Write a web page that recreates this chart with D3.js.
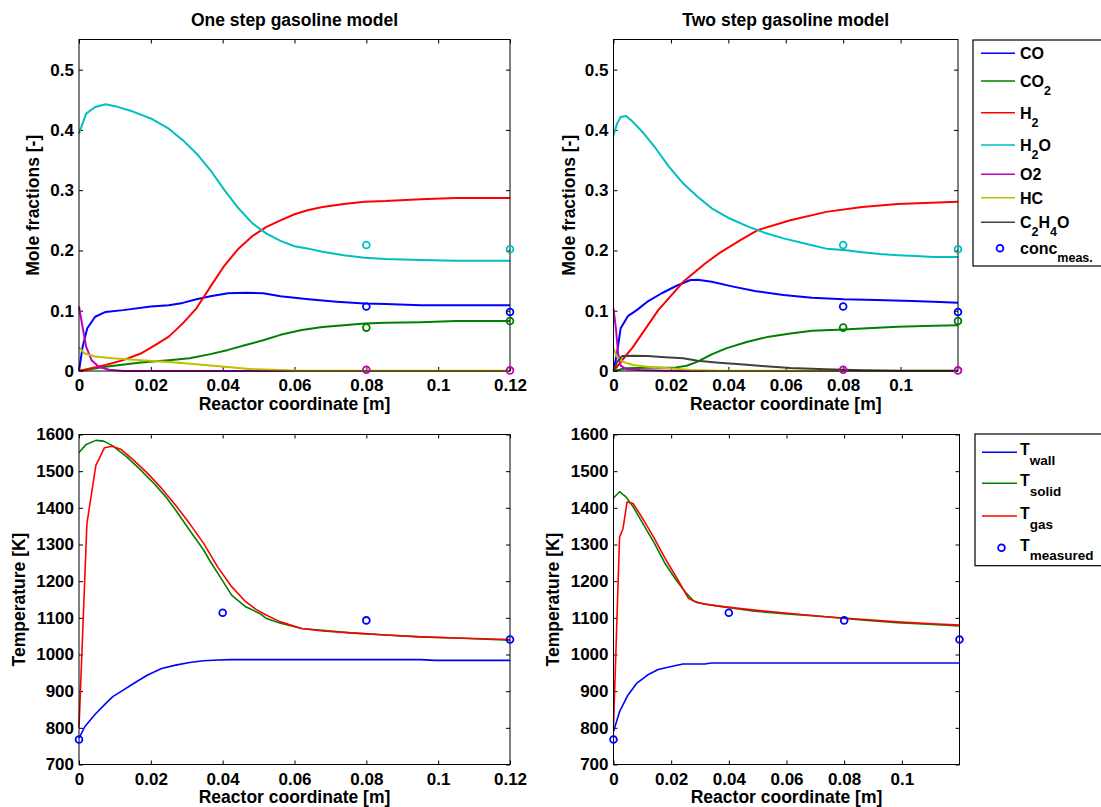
<!DOCTYPE html>
<html>
<head>
<meta charset="utf-8">
<script src="https://cdn.jsdelivr.net/npm/d3@7"></script>
<style>
  html, body { margin: 0; padding: 0; background: #fff; }
  svg { display: block; }
</style>
</head>
<body>
<svg id="chart" width="1101" height="807"></svg>
<script>
// ---- Species mole fractions, one step model: [position (m), mole fraction] ----
const oneCO  = [[0,0],[0.001,0.040],[0.0023,0.071],[0.0045,0.090],[0.0074,0.098],[0.0123,0.101],[0.020,0.107],[0.025,0.109],[0.0289,0.113],[0.0327,0.119],[0.0366,0.124],[0.0415,0.129],[0.0464,0.130],[0.0513,0.129],[0.0561,0.124],[0.0639,0.119],[0.0717,0.115],[0.0795,0.112],[0.0854,0.111],[0.0951,0.109],[0.1049,0.109],[0.12,0.109]];
const oneCO2 = [[0,0],[0.0074,0.007],[0.0172,0.014],[0.025,0.018],[0.0308,0.021],[0.0366,0.028],[0.0415,0.035],[0.0464,0.043],[0.0513,0.051],[0.0561,0.060],[0.062,0.068],[0.0678,0.073],[0.0737,0.076],[0.0795,0.079],[0.0854,0.080],[0.0951,0.081],[0.1049,0.083],[0.12,0.083]];
const oneH2  = [[0,0],[0.0074,0.010],[0.0123,0.018],[0.0172,0.029],[0.022,0.046],[0.025,0.057],[0.0289,0.079],[0.0327,0.104],[0.0366,0.140],[0.0405,0.175],[0.0444,0.203],[0.0483,0.224],[0.0522,0.239],[0.0561,0.250],[0.060,0.260],[0.0639,0.267],[0.0678,0.272],[0.0737,0.277],[0.0795,0.281],[0.0854,0.282],[0.0951,0.285],[0.1049,0.287],[0.12,0.287]];
const oneH2O = [[0,0.394],[0.002,0.427],[0.0045,0.438],[0.0074,0.4425],[0.0103,0.439],[0.0152,0.430],[0.020,0.419],[0.025,0.402],[0.0289,0.383],[0.0327,0.361],[0.0366,0.333],[0.0405,0.300],[0.0444,0.270],[0.0483,0.245],[0.0522,0.228],[0.0561,0.216],[0.060,0.207],[0.0639,0.203],[0.0678,0.198],[0.0737,0.192],[0.0795,0.188],[0.0854,0.186],[0.0951,0.184],[0.1049,0.183],[0.12,0.183]];
const oneO2  = [[0,0.107],[0.001,0.073],[0.002,0.040],[0.0035,0.018],[0.0055,0.007],[0.0084,0.002],[0.0123,0],[0.12,0]];
const oneHC  = [[0,0.039],[0.0016,0.029],[0.0045,0.024],[0.0094,0.021],[0.0172,0.018],[0.025,0.015],[0.0327,0.011],[0.0405,0.007],[0.0483,0.003],[0.0542,0.002],[0.061,0.0005],[0.12,0.0005]];

// ---- Species mole fractions, two step model ----
const twoCO  = [[0,0],[0.0012,0.029],[0.0025,0.071],[0.005,0.091],[0.0081,0.101],[0.0118,0.115],[0.0168,0.129],[0.0218,0.141],[0.0268,0.151],[0.0293,0.1514],[0.0342,0.148],[0.0417,0.140],[0.0492,0.1326],[0.0592,0.126],[0.0691,0.1215],[0.0803,0.119],[0.0915,0.1177],[0.104,0.116],[0.1115,0.115],[0.12,0.1133]];
const twoCO2 = [[0,0],[0.0044,0.0044],[0.0118,0.0055],[0.0218,0.006],[0.0255,0.0088],[0.0293,0.0155],[0.0342,0.0276],[0.0392,0.0376],[0.0467,0.0486],[0.0542,0.057],[0.0616,0.0624],[0.0691,0.0669],[0.0803,0.069],[0.0866,0.0707],[0.099,0.0735],[0.1115,0.0751],[0.12,0.076]];
const twoH2  = [[0,0],[0.0068,0.040],[0.0156,0.101],[0.0243,0.148],[0.0318,0.178],[0.0367,0.195],[0.0442,0.217],[0.0504,0.234],[0.0616,0.250],[0.0741,0.264],[0.0866,0.272],[0.099,0.277],[0.12,0.281]];
const twoH2O = [[0,0.391],[0.0012,0.410],[0.0025,0.4215],[0.0044,0.423],[0.0068,0.413],[0.0106,0.394],[0.0143,0.372],[0.0193,0.339],[0.0243,0.311],[0.0293,0.289],[0.0342,0.270],[0.0405,0.253],[0.0467,0.240],[0.0529,0.229],[0.0592,0.220],[0.0666,0.2116],[0.0741,0.203],[0.0803,0.2006],[0.0866,0.197],[0.0928,0.194],[0.099,0.192],[0.1052,0.1906],[0.1115,0.189],[0.12,0.189]];
const twoO2  = [[0,0.104],[0.0009,0.068],[0.0016,0.029],[0.0025,0.009],[0.0044,0.003],[0.0093,0.0017],[0.018,0.0005],[0.025,0],[0.12,0]];
const twoHC  = [[0,0.0376],[0.0012,0.024],[0.0031,0.0155],[0.0068,0.010],[0.0118,0.007],[0.0193,0.0044],[0.0268,0.0017],[0.0367,0.0006],[0.12,0.0003]];
const twoC2H4O = [[0,0],[0.0012,0.015],[0.0031,0.025],[0.0068,0.0254],[0.0118,0.025],[0.018,0.0227],[0.0243,0.021],[0.0293,0.017],[0.0367,0.0138],[0.0442,0.011],[0.0517,0.0083],[0.0616,0.005],[0.0741,0.0028],[0.0866,0.0011],[0.099,0.0006],[0.12,0.0006]];

// ---- Measured concentrations at the sampling ports ----
const concMeasX   = [0.08, 0.12];
const concMeasCO  = [0.107, 0.098];
const concMeasCO2 = [0.072, 0.083];
const concMeasH2O = [0.209, 0.202];
const concMeasO2  = [0.002, 0.001];

// ---- Temperatures (K), one step model ----
const oneTwall  = [[0,771],[0.0016,803],[0.0045,837],[0.0074,866],[0.0094,885],[0.0123,903],[0.0152,921],[0.0191,944],[0.023,962],[0.0269,971],[0.0308,978],[0.0347,983],[0.0386,985],[0.0425,986],[0.0951,986],[0.099,984],[0.12,984]];
const oneTsolid = [[0,1551],[0.002,1573],[0.0047,1584],[0.0069,1582],[0.0094,1569],[0.0133,1539],[0.0172,1503],[0.021,1465],[0.024,1432],[0.0269,1394],[0.0308,1339],[0.0347,1285],[0.0366,1253],[0.0396,1207],[0.0425,1162],[0.0464,1130],[0.0503,1112],[0.0522,1098],[0.0561,1085],[0.062,1071],[0.0678,1066],[0.0756,1059],[0.0854,1053],[0.0951,1048],[0.1049,1045],[0.12,1039]];
const oneTgas   = [[0,800],[0.0022,1357],[0.0047,1516],[0.0071,1564],[0.0092,1568],[0.0118,1559],[0.0152,1530],[0.0191,1494],[0.023,1453],[0.0269,1407],[0.0308,1357],[0.0347,1303],[0.0386,1239],[0.0425,1185],[0.0464,1144],[0.0493,1123],[0.0522,1107],[0.0561,1089],[0.062,1071],[0.0678,1064],[0.0756,1059],[0.0854,1053],[0.0951,1048],[0.1049,1045],[0.12,1041]];

// ---- Temperatures (K), two step model ----
const twoTwall  = [[0,790],[0.0021,844],[0.005,889],[0.008,921],[0.0118,944],[0.0155,959],[0.0204,968],[0.0241,974],[0.0316,974],[0.034,977],[0.12,977]];
const twoTsolid = [[0,1427],[0.0021,1444],[0.0043,1430],[0.0068,1403],[0.0105,1353],[0.0142,1303],[0.0179,1248],[0.0217,1203],[0.0254,1166],[0.0278,1146],[0.0316,1137],[0.0365,1132],[0.0489,1118],[0.0613,1110],[0.0736,1103],[0.086,1094],[0.0984,1087],[0.1108,1082],[0.12,1078]];
const twoTgas   = [[0,803],[0.0021,1320],[0.0033,1343],[0.0047,1416],[0.0068,1412],[0.0105,1366],[0.0142,1316],[0.0179,1262],[0.0217,1212],[0.026,1153],[0.0291,1141],[0.0365,1132],[0.0489,1121],[0.0613,1112],[0.0736,1103],[0.086,1096],[0.0984,1089],[0.1108,1084],[0.12,1080]];

// ---- Measured temperatures ----
const tempMeasX = [0, 0.04, 0.08, 0.12];
const tempMeasT = [768, 1114, 1093, 1041];

// ---- Axis ticks and labels ----
const xTicksFull  = [0, 0.02, 0.04, 0.06, 0.08, 0.1, 0.12];
const xTicksShort = [0, 0.02, 0.04, 0.06, 0.08, 0.1];
const yTicksConc  = [0, 0.1, 0.2, 0.3, 0.4, 0.5];
const yTicksTemp  = [700, 800, 900, 1000, 1100, 1200, 1300, 1400, 1500, 1600];
const titles = ["One step gasoline model", "Two step gasoline model"];
const xLabel = "Reactor coordinate [m]";
const yLabelConc = "Mole fractions [-]";
const yLabelTemp = "Temperature [K]";
const concLegend = ["CO", "CO_2", "H_2", "H_2O", "O2", "HC", "C_2H_4O", "conc_{meas.}"];
const tempLegend = ["T_{wall}", "T_{solid}", "T_{gas}", "T_{measured}"];

// ---- Styling ----
const FONT = "'Liberation Sans', Arial, Helvetica, sans-serif";
const C = {
  blue: "#0000ff", green: "#008000", red: "#ff0000", cyan: "#00bfbf",
  magenta: "#bf00bf", yellow: "#bfbf00", gray: "#404040"
};
const tickFmt = d => String(+d.toFixed(4));

const svg = d3.select("#chart");

function drawPanel(p) {
  const x = d3.scaleLinear().domain(p.xDomain).range([p.left, p.right]);
  const y = d3.scaleLinear().domain(p.yDomain).range([p.bottom, p.top]);
  const g = svg.append("g");
  const clipId = "clip" + Math.round(p.left) + "_" + Math.round(p.top);
  svg.append("clipPath").attr("id", clipId).append("rect")
    .attr("x", p.left - 1).attr("y", p.top - 1)
    .attr("width", p.right - p.left + 2).attr("height", p.bottom - p.top + 2);

  // axes with inward ticks on all four sides
  const styleAxis = (sel, showText) => {
    sel.select(".domain").remove();
    sel.selectAll(".tick line").attr("stroke", "#000").attr("stroke-width", 1);
    sel.selectAll("text").attr("fill", "#000")
      .style("font-family", FONT).style("font-weight", "bold").style("font-size", "17px");
    if (!showText) sel.selectAll("text").remove();
  };
  g.append("g").attr("transform", `translate(0,${p.bottom})`)
    .call(d3.axisBottom(x).tickValues(p.xTicks).tickFormat(tickFmt).tickSizeInner(-4).tickSizeOuter(0).tickPadding(8))
    .call(s => styleAxis(s, true));
  g.append("g").attr("transform", `translate(0,${p.top})`)
    .call(d3.axisTop(x).tickValues(p.xTicks).tickSizeInner(-4).tickSizeOuter(0))
    .call(s => styleAxis(s, false));
  g.append("g").attr("transform", `translate(${p.left},0)`)
    .call(d3.axisLeft(y).tickValues(p.yTicks).tickFormat(tickFmt).tickSizeInner(-4).tickSizeOuter(0).tickPadding(5))
    .call(s => styleAxis(s, true));
  g.append("g").attr("transform", `translate(${p.right},0)`)
    .call(d3.axisRight(y).tickValues(p.yTicks).tickSizeInner(-4).tickSizeOuter(0))
    .call(s => styleAxis(s, false));

  // series lines
  const line = d3.line().x(d => x(d[0])).y(d => y(d[1]));
  const plot = g.append("g").attr("clip-path", `url(#${clipId})`);
  p.series.forEach(s => {
    plot.append("path").datum(s.data).attr("d", line)
      .attr("fill", "none").attr("stroke", s.color)
      .attr("stroke-width", p.lineWidth).attr("stroke-linejoin", "round");
  });

  // axes box
  g.append("rect").attr("x", p.left).attr("y", p.top)
    .attr("width", p.right - p.left).attr("height", p.bottom - p.top)
    .attr("fill", "none").attr("stroke", "#000").attr("stroke-width", 1);

  // measured points as open circles
  p.markers.forEach(m => {
    g.selectAll(null).data(m.xs.map((v, i) => [v, m.ys[i]])).enter()
      .append("circle").attr("cx", d => x(d[0])).attr("cy", d => y(d[1]))
      .attr("r", 3.4).attr("fill", "none").attr("stroke", m.color).attr("stroke-width", 1.8);
  });

  // titles and axis labels
  const cx = (p.left + p.right) / 2;
  if (p.title) {
    g.append("text").attr("x", cx).attr("y", 26).attr("text-anchor", "middle")
      .style("font-family", FONT).style("font-weight", "bold").style("font-size", "17.5px")
      .text(p.title);
  }
  g.append("text").attr("x", cx).attr("y", p.bottom + 38.5).attr("text-anchor", "middle")
    .style("font-family", FONT).style("font-weight", "bold").style("font-size", "17.5px")
    .text(xLabel);
  g.append("text")
    .attr("transform", `translate(${p.yLabelX},${(p.top + p.bottom) / 2}) rotate(-90)`)
    .attr("text-anchor", "middle")
    .style("font-family", FONT).style("font-weight", "bold").style("font-size", "17.5px")
    .text(p.yLabel);
}

// split a label like "C_2H_4O" or "T_{wall}" into normal / subscript pieces
function parseLabel(str) {
  const parts = [];
  let i = 0, buf = "";
  while (i < str.length) {
    if (str[i] === "_") {
      if (buf) { parts.push({ t: buf, sub: false }); buf = ""; }
      if (str[i + 1] === "{") {
        const end = str.indexOf("}", i);
        parts.push({ t: str.slice(i + 2, end), sub: true });
        i = end + 1;
      } else {
        parts.push({ t: str[i + 1], sub: true });
        i += 2;
      }
    } else { buf += str[i]; i++; }
  }
  if (buf) parts.push({ t: buf, sub: false });
  return parts;
}

function drawLegend(L) {
  const g = svg.append("g");
  g.append("rect").attr("x", L.left).attr("y", L.top)
    .attr("width", 200).attr("height", L.bottom - L.top)
    .attr("fill", "#fff").attr("stroke", "#000").attr("stroke-width", 1.2);
  L.items.forEach((it, i) => {
    const yy = L.rows[i];
    if (it.marker) {
      g.append("circle").attr("cx", (L.lineX0 + L.lineX1) / 2 + 2).attr("cy", yy).attr("r", 3.4)
        .attr("fill", "none").attr("stroke", it.color).attr("stroke-width", 1.8);
    } else {
      g.append("line").attr("x1", L.lineX0).attr("x2", L.lineX1).attr("y1", yy).attr("y2", yy)
        .attr("stroke", it.color).attr("stroke-width", 1.5);
    }
    const t = g.append("text").attr("x", L.textX).attr("y", yy + L.baseOff)
      .style("font-family", FONT).style("font-weight", "bold").style("font-size", "16px");
    let down = false;
    parseLabel(it.label).forEach(part => {
      const ts = t.append("tspan").text(part.t);
      if (part.sub && !down) { ts.attr("dy", L.subShift).style("font-size", L.subSize); down = true; }
      else if (part.sub) { ts.style("font-size", L.subSize); }
      else if (!part.sub && down) { ts.attr("dy", -L.subShift); down = false; }
    });
  });
}

// ---- Panels ----
const concSeriesOne = [
  { data: oneCO, color: C.blue }, { data: oneCO2, color: C.green },
  { data: oneH2, color: C.red }, { data: oneH2O, color: C.cyan },
  { data: oneO2, color: C.magenta }, { data: oneHC, color: C.yellow }
];
const concSeriesTwo = [
  { data: twoCO, color: C.blue }, { data: twoCO2, color: C.green },
  { data: twoH2, color: C.red }, { data: twoH2O, color: C.cyan },
  { data: twoO2, color: C.magenta }, { data: twoHC, color: C.yellow },
  { data: twoC2H4O, color: C.gray }
];
const concMarkers = [
  { xs: concMeasX, ys: concMeasCO, color: C.blue },
  { xs: concMeasX, ys: concMeasCO2, color: C.green },
  { xs: concMeasX, ys: concMeasH2O, color: C.cyan },
  { xs: concMeasX, ys: concMeasO2, color: C.magenta }
];
const tempMarkers = [{ xs: tempMeasX, ys: tempMeasT, color: C.blue }];

drawPanel({
  left: 79, right: 510, top: 39.5, bottom: 371, xDomain: [0, 0.12], yDomain: [0, 0.55],
  xTicks: xTicksFull, yTicks: yTicksConc, series: concSeriesOne, markers: concMarkers,
  lineWidth: 2, title: titles[0], yLabel: yLabelConc, yLabelX: 39
});
drawPanel({
  left: 613.5, right: 958, top: 39.5, bottom: 371, xDomain: [0, 0.12], yDomain: [0, 0.55],
  xTicks: xTicksShort, yTicks: yTicksConc, series: concSeriesTwo, markers: concMarkers,
  lineWidth: 2, title: titles[1], yLabel: yLabelConc, yLabelX: 575
});
drawPanel({
  left: 79, right: 510, top: 434.5, bottom: 764.5, xDomain: [0, 0.12], yDomain: [700, 1600],
  xTicks: xTicksFull, yTicks: yTicksTemp,
  series: [{ data: oneTwall, color: C.blue }, { data: oneTsolid, color: C.green }, { data: oneTgas, color: C.red }],
  markers: tempMarkers, lineWidth: 1.6, yLabel: yLabelTemp, yLabelX: 25
});
drawPanel({
  left: 613.5, right: 959.5, top: 434.5, bottom: 764.5, xDomain: [0, 0.12], yDomain: [700, 1600],
  xTicks: xTicksShort, yTicks: yTicksTemp,
  series: [{ data: twoTwall, color: C.blue }, { data: twoTsolid, color: C.green }, { data: twoTgas, color: C.red }],
  markers: tempMarkers, lineWidth: 1.6, yLabel: yLabelTemp, yLabelX: 559
});

// ---- Legends ----
const concColors = [C.blue, C.green, C.red, C.cyan, C.magenta, C.yellow, C.gray, C.blue];
drawLegend({
  left: 973, top: 40, bottom: 266, lineX0: 981, lineX1: 1015, textX: 1020,
  rows: [53.3, 81, 112.7, 145, 174.3, 197.7, 222.3, 248.3], baseOff: 6, subShift: 8, subSize: "12.5px",
  items: concLegend.map((l, i) => ({ label: l, color: concColors[i], marker: i === concLegend.length - 1 }))
});
const tempColors = [C.blue, C.green, C.red, C.blue];
drawLegend({
  left: 975, top: 434, bottom: 565.7, lineX0: 982, lineX1: 1017, textX: 1020,
  rows: [452.3, 483.3, 516, 547.7], baseOff: 3, subShift: 9.5, subSize: "13.5px",
  items: tempLegend.map((l, i) => ({ label: l, color: tempColors[i], marker: i === tempLegend.length - 1 }))
});
</script>
</body>
</html>
